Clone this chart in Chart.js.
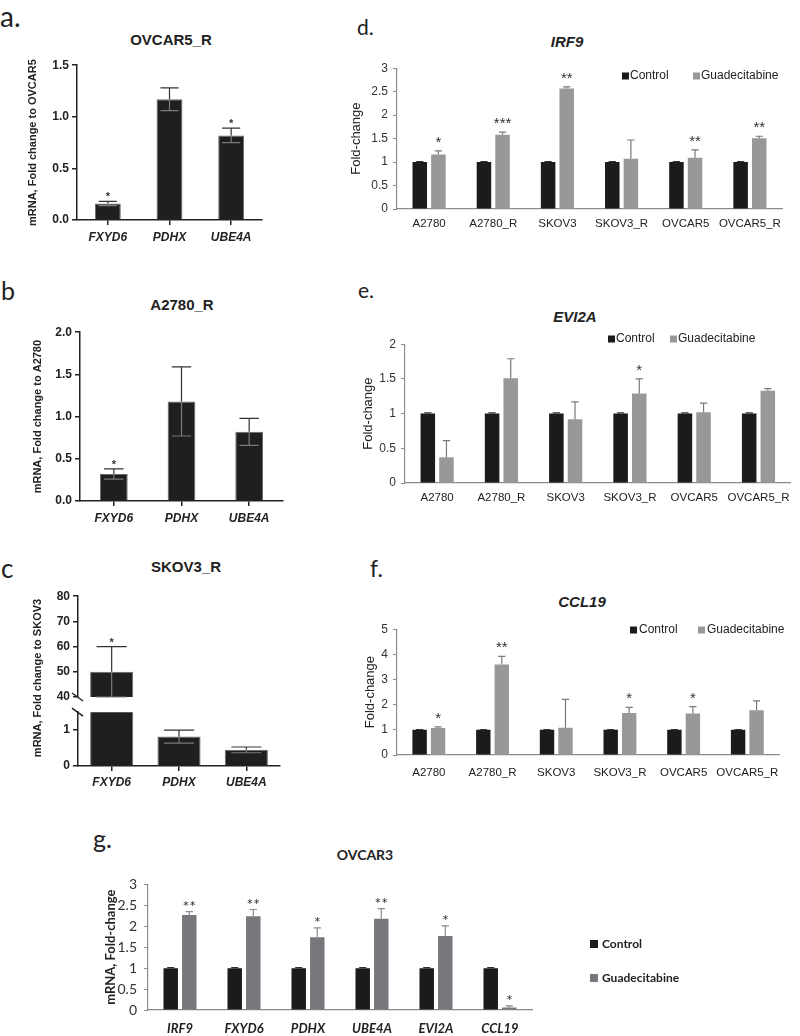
<!DOCTYPE html>
<html lang="en">
<head>
<meta charset="UTF-8">
<title>Gene expression after guadecitabine</title>
<script src="https://cdn.jsdelivr.net/npm/chart.js"></script>
<style>
  body { margin: 0; background: #fff; }
  #page { position: relative; width: 800px; height: 1036px; overflow: hidden; }
  #page canvas { position: absolute; }
  .txt { position: absolute; white-space: nowrap; line-height: 1; color: #222; }
  .letter { font-family: Lato, sans-serif; }
  .gp { font-family: "Liberation Sans", Arial, sans-serif; font-weight: bold; font-size: 15px; transform: translateX(-50%); }
  .gi { font-family: "Liberation Sans", Arial, sans-serif; font-weight: bold; font-style: italic; font-size: 15px; transform: translateX(-50%); }
</style>
</head>
<body>
<div id="page">
  <!-- panel letters -->
  <div class="txt letter" style="left:0;top:2px;font-size:28px">a.</div>
  <div class="txt letter" style="left:1px;top:278px;font-size:25px">b</div>
  <div class="txt letter" style="left:1px;top:555px;font-size:26px">c</div>
  <div class="txt letter" style="left:357px;top:16px;font-size:21px">d.</div>
  <div class="txt letter" style="left:358px;top:279px;font-size:21px">e.</div>
  <div class="txt letter" style="left:370px;top:557px;font-size:23px">f.</div>
  <div class="txt letter" style="left:93px;top:826px;font-size:25px">g.</div>

  <!-- chart titles -->
  <div class="txt gp" style="left:171px;top:32px">OVCAR5_R</div>
  <div class="txt gp" style="left:182px;top:297px">A2780_R</div>
  <div class="txt gp" style="left:186px;top:559px">SKOV3_R</div>
  <div class="txt gi" style="left:567px;top:34px">IRF9</div>
  <div class="txt gi" style="left:575px;top:309px">EVI2A</div>
  <div class="txt gi" style="left:582px;top:594px">CCL19</div>
  <div class="txt" style="left:365px;top:846px;transform:translateX(-50%);font:bold 14px Lato, sans-serif">OVCAR3</div>
</div>

<script>
// ---- panels a-c (resistant vs parental) ----
const genes = ['FXYD6', 'PDHX', 'UBE4A'];

const ovcar5R = [0.16, 1.17, 0.82];
const ovcar5RErr = [0.02, 0.11, 0.07];
const ovcar5RSig = ['*', '', '*'];

const a2780R = [0.32, 1.18, 0.82];
const a2780RErr = [0.06, 0.41, 0.16];
const a2780RSig = ['*', '', ''];

const skov3R = [50, 0.82, 0.45];
const skov3RErr = [10, 0.18, 0.08];
const skov3RSig = ['*', '', ''];
const skov3Upper = [40, 80];
const skov3Lower = [0, 1.5];
const skov3LowerTicks = [0, 1];

// ---- panels d-f (control vs guadecitabine per cell line) ----
const cellLines = ['A2780', 'A2780_R', 'SKOV3', 'SKOV3_R', 'OVCAR5', 'OVCAR5_R'];
const control = [1, 1, 1, 1, 1, 1];
const controlErr = [0.01, 0.01, 0.01, 0.01, 0.01, 0.01];

const irf9 = [1.16, 1.58, 2.57, 1.07, 1.09, 1.51];
const irf9Err = [0.08, 0.06, 0.03, 0.40, 0.17, 0.04];
const irf9Sig = ['*', '***', '**', '', '**', '**'];

const evi2a = [0.37, 1.51, 0.92, 1.29, 1.02, 1.33];
const evi2aErr = [0.24, 0.28, 0.25, 0.21, 0.13, 0.03];
const evi2aSig = ['', '', '', '*', '', ''];

const ccl19 = [1.07, 3.60, 1.08, 1.67, 1.65, 1.78];
const ccl19Err = [0.05, 0.32, 1.13, 0.22, 0.27, 0.37];
const ccl19Sig = ['*', '**', '', '*', '*', ''];

// ---- panel g (OVCAR3) ----
const ovcar3Genes = ['IRF9', 'FXYD6', 'PDHX', 'UBE4A', 'EVI2A', 'CCL19'];
const ovcar3Ctrl = [1, 1, 1, 1, 1, 1];
const ovcar3CtrlErr = [0.01, 0.01, 0.01, 0.01, 0.01, 0.01];
const ovcar3Guad = [2.27, 2.24, 1.74, 2.18, 1.77, 0.06];
const ovcar3GuadErr = [0.08, 0.16, 0.22, 0.24, 0.24, 0.04];
const ovcar3Sig = ['**', '**', '*', '**', '*', '*'];

const LIB = '"Liberation Sans", Arial, sans-serif';

// error bars + significance stars
const errBars = {
  id: 'errBars',
  afterDatasetsDraw(chart, args, o) {
    const ctx = chart.ctx, ys = chart.scales.y;
    chart.data.datasets.forEach((ds, i) => {
      if (!ds.err) return;
      chart.getDatasetMeta(i).data.forEach((bar, j) => {
        const v = ds.data[j];
        if (v < ys.min || v > ys.max) return;
        const e = ds.err[j];
        const yv = ys.getPixelForValue(v);
        const yt = ys.getPixelForValue(v + e);
        const cap = bar.width * (o.cap || 0.5) / 2;
        ctx.save();
        ctx.lineWidth = o.lineWidth || 1;
        ctx.strokeStyle = ds.errColor || '#333';
        ctx.beginPath();
        ctx.moveTo(bar.x, yv); ctx.lineTo(bar.x, yt);
        ctx.moveTo(bar.x - cap, yt); ctx.lineTo(bar.x + cap, yt);
        ctx.stroke();
        if (o.lower) {
          const yb = ys.getPixelForValue(Math.max(v - e, ys.min));
          ctx.strokeStyle = o.lowerColor;
          ctx.beginPath();
          ctx.moveTo(bar.x, yv); ctx.lineTo(bar.x, yb);
          ctx.moveTo(bar.x - cap, yb); ctx.lineTo(bar.x + cap, yb);
          ctx.stroke();
        }
        if (ds.sig && ds.sig[j]) {
          ctx.fillStyle = o.starColor || '#333';
          ctx.font = o.starFont;
          ctx.textAlign = 'center';
          ctx.textBaseline = 'alphabetic';
          ctx.fillText(ds.sig[j], bar.x, yt - (o.starGap || 0));
        }
        ctx.restore();
      });
    });
  }
};

// small square legend placed inside the plot
const key = {
  id: 'key',
  afterDraw(chart, args, o) {
    if (!o.xs) return;
    const ctx = chart.ctx;
    ctx.save();
    ctx.font = o.font;
    ctx.textBaseline = 'middle';
    ctx.textAlign = 'left';
    chart.data.datasets.forEach((ds, k) => {
      ctx.fillStyle = ds.backgroundColor;
      ctx.fillRect(o.xs[k], o.ys[k] - o.box / 2, o.box, o.box);
      ctx.fillStyle = o.color;
      ctx.fillText(ds.label, o.xs[k] + o.box + o.gap, o.ys[k]);
    });
    ctx.restore();
  }
};

// diagonal mark where the y axis of panel c is broken,
// plus the shared axis title of both halves
const axisBreak = {
  id: 'axisBreak',
  afterDraw(chart, args, o) {
    if (!o.at) return;
    const ctx = chart.ctx, a = chart.chartArea;
    const y = o.at === 'top' ? a.top : a.bottom;
    ctx.save();
    ctx.strokeStyle = '#222';
    ctx.lineWidth = 1.5;
    ctx.beginPath();
    ctx.moveTo(a.left - 6, y - 4);
    ctx.lineTo(a.left + 5, y + 4);
    ctx.stroke();
    if (o.title) {
      ctx.translate(o.titleX, o.titleY);
      ctx.rotate(-Math.PI / 2);
      ctx.fillStyle = '#222';
      ctx.font = 'bold 11px ' + LIB;
      ctx.textAlign = 'center';
      ctx.textBaseline = 'middle';
      ctx.fillText(o.title, 0, 0);
    }
    ctx.restore();
  }
};

Chart.register(errBars, key, axisBreak);
Chart.defaults.font.family = LIB;
Chart.defaults.color = '#222';

function addCanvas(x, y, w, h) {
  const c = document.createElement('canvas');
  c.width = w; c.height = h;
  c.style.left = x + 'px';
  c.style.top = y + 'px';
  document.getElementById('page').appendChild(c);
  return c;
}

// ---- GraphPad-like panels ----
function gpY(min, max, step, title, titlePad, width, fmt) {
  return {
    min: min, max: max,
    ticks: { stepSize: step, padding: 3, color: '#222', font: { weight: 'bold', size: 12 }, callback: fmt },
    grid: { drawOnChartArea: false, tickLength: 5, color: '#222', lineWidth: 1.5 },
    border: { color: '#222', width: 1.5 },
    title: { display: !!title, text: title, color: '#222', font: { weight: 'bold', size: 11 }, padding: { top: titlePad, bottom: 0 } },
    afterFit: s => { s.width = width; }
  };
}
function gpX(pad, height, show) {
  return {
    display: show !== false,
    ticks: { padding: pad, color: '#222', font: { weight: 'bold', style: 'italic', size: 12 } },
    grid: { offset: false, drawOnChartArea: false, tickLength: 5, color: '#222', lineWidth: 1.5 },
    border: { color: '#222', width: 1.5 },
    afterFit: s => { s.height = height; }
  };
}
function gpSet(values, errs, sig, barPct) {
  return { data: values, err: errs, sig: sig, backgroundColor: '#201e1f', borderColor: '#6a6a6a',
           borderWidth: 1, barPercentage: barPct, categoryPercentage: 1, errColor: '#333', clip: 0 };
}
const gpPlugins = {
  legend: { display: false }, tooltip: { enabled: false },
  errBars: { cap: 0.7, lower: true, lowerColor: '#7a7a7a', lineWidth: 1.2, starFont: 'bold 11px ' + LIB, starGap: 1, starColor: '#333' }
};
const oneDec = v => v.toFixed(1);
const plain = v => String(v);

// a. OVCAR5_R
new Chart(addCanvas(0, 55, 275, 200), {
  type: 'bar',
  data: { labels: genes, datasets: [gpSet(ovcar5R, ovcar5RErr, ovcar5RSig, 0.42)] },
  options: {
    responsive: false, animation: false,
    layout: { padding: { top: 10, right: 13, left: 0, bottom: 0 } },
    plugins: gpPlugins,
    scales: { x: gpX(5, 35), y: gpY(0, 1.5, 0.5, 'mRNA, Fold change to OVCAR5', 26, 77, oneDec) }
  }
});

// b. A2780_R
new Chart(addCanvas(0, 322, 290, 205), {
  type: 'bar',
  data: { labels: genes, datasets: [gpSet(a2780R, a2780RErr, a2780RSig, 0.41)] },
  options: {
    responsive: false, animation: false,
    layout: { padding: { top: 10, right: 7, left: 0, bottom: 0 } },
    plugins: gpPlugins,
    scales: { x: gpX(5, 26), y: gpY(0, 2, 0.5, 'mRNA, Fold change to A2780', 31, 80, oneDec) }
  }
});

// c. SKOV3_R, upper segment of the broken axis (canvas reaches down to hold the axis title)
new Chart(addCanvas(0, 586, 290, 190), {
  type: 'bar',
  data: { labels: genes, datasets: [gpSet(skov3R, skov3RErr, skov3RSig, 0.64)] },
  options: {
    responsive: false, animation: false,
    layout: { padding: { top: 10, right: 10, left: 0, bottom: 79 } },
    plugins: Object.assign({}, gpPlugins, {
      axisBreak: { at: 'bottom', title: 'mRNA, Fold change to SKOV3', titleX: 38, titleY: 92 }
    }),
    scales: { x: gpX(5, 0, false), y: gpY(skov3Upper[0], skov3Upper[1], 10, '', 0, 78, plain) }
  }
});

// c. lower segment
const lowerY = gpY(skov3Lower[0], skov3Lower[1], 1, '', 0, 78, plain);
lowerY.afterBuildTicks = s => { s.ticks = skov3LowerTicks.map(v => ({ value: v })); };
new Chart(addCanvas(0, 702, 290, 98), {
  type: 'bar',
  data: { labels: genes, datasets: [gpSet(skov3R, skov3RErr, skov3RSig, 0.64)] },
  options: {
    responsive: false, animation: false,
    layout: { padding: { top: 10, right: 10, left: 0, bottom: 0 } },
    plugins: Object.assign({}, gpPlugins, { axisBreak: { at: 'top' } }),
    scales: { x: gpX(4, 34), y: lowerY }
  }
});

// ---- grouped Excel-like panels ----
function groupedPanel(box, o) {
  const axisGrey = o.axisColor;
  return new Chart(addCanvas(box[0], box[1], box[2], box[3]), {
    type: 'bar',
    data: {
      labels: o.labels,
      datasets: [
        { label: 'Control', data: o.ctrl, err: o.ctrlErr, backgroundColor: '#1b1b1b', errColor: '#333' },
        { label: 'Guadecitabine', data: o.guad, err: o.err, sig: o.sig, backgroundColor: o.guadColor, errColor: o.errColor }
      ]
    },
    options: {
      responsive: false, animation: false,
      datasets: { bar: { categoryPercentage: 0.58, barPercentage: 0.78 } },
      layout: { padding: o.pad },
      plugins: {
        legend: { display: false }, tooltip: { enabled: false },
        errBars: { cap: 0.5, lineWidth: 1.2, starFont: o.starFont, starGap: o.starGap, starColor: '#333' },
        key: o.key
      },
      scales: {
        x: {
          ticks: { padding: o.xPad, color: '#222', font: o.xFont, maxRotation: 0, minRotation: 0, autoSkip: false },
          grid: { display: false, drawTicks: false },
          border: { color: axisGrey, width: 1.2 },
          afterFit: s => { s.height = o.xHeight; }
        },
        y: {
          min: 0, max: o.yMax,
          ticks: { stepSize: o.yStep, padding: o.yPad, color: '#333', font: o.yFont, callback: plain },
          grid: { drawOnChartArea: false, tickLength: 4, color: axisGrey },
          border: { color: axisGrey, width: 1.2 },
          title: { display: true, text: o.yTitle, color: '#222', font: o.titleFont, padding: { top: o.titlePad, bottom: 0 } },
          afterFit: s => { s.width = o.yWidth; }
        }
      }
    }
  });
}

const excel = {
  labels: cellLines, ctrl: control, ctrlErr: controlErr,
  guadColor: '#989898', errColor: '#7a7a7a', axisColor: '#8c8c8c',
  starFont: '15px ' + LIB, starGap: 4,
  xFont: { size: 11.5 }, yFont: { size: 12 }, titleFont: { size: 13 },
  yTitle: 'Fold-change', yPad: 5
};

// d. IRF9
groupedPanel([340, 56, 450, 175], Object.assign({}, excel, {
  guad: irf9, err: irf9Err, sig: irf9Sig, yMax: 3, yStep: 0.5,
  pad: { top: 10, right: 8, left: 0, bottom: 0 }, yWidth: 57, xHeight: 22, xPad: 8, titlePad: 9,
  key: { xs: [282, 353], ys: [20, 20], box: 7, gap: 1, font: '12px ' + LIB, color: '#222' }
}));

// e. EVI2A
groupedPanel([340, 332, 458, 175], Object.assign({}, excel, {
  guad: evi2a, err: evi2aErr, sig: evi2aSig, yMax: 2, yStep: 0.5,
  pad: { top: 10, right: 6, left: 0, bottom: 0 }, yWidth: 65, xHeight: 24, xPad: 8, titlePad: 21,
  key: { xs: [268, 330], ys: [7, 7], box: 7, gap: 1, font: '12px ' + LIB, color: '#222' }
}));

// f. CCL19
groupedPanel([340, 617, 450, 170], Object.assign({}, excel, {
  guad: ccl19, err: ccl19Err, sig: ccl19Sig, yMax: 5, yStep: 1,
  pad: { top: 10, right: 8, left: 0, bottom: 0 }, yWidth: 57, xHeight: 32, xPad: 11, titlePad: 23,
  key: { xs: [290, 358], ys: [13, 13], box: 7, gap: 2, font: '12px ' + LIB, color: '#222' }
}));

// g. OVCAR3
groupedPanel([90, 869, 700, 167], {
  labels: ovcar3Genes, ctrl: ovcar3Ctrl, ctrlErr: ovcar3CtrlErr,
  guad: ovcar3Guad, err: ovcar3GuadErr, sig: ovcar3Sig,
  guadColor: '#77787b', errColor: '#8c8c8c', axisColor: '#8c8c8c',
  starFont: '16px Lato, sans-serif', starGap: 0,
  xFont: { family: 'Lato, sans-serif', weight: 'bold', style: 'italic', size: 13 },
  yFont: { family: 'Lato, sans-serif', size: 14 },
  titleFont: { family: 'Lato, sans-serif', weight: 'bold', size: 13 },
  yTitle: 'mRNA, Fold-change', yPad: 7,
  yMax: 3, yStep: 0.5,
  pad: { top: 10, right: 258, left: 0, bottom: 0 }, yWidth: 58, xHeight: 26, xPad: 11, titlePad: 13,
  key: { xs: [500, 500], ys: [75, 109], box: 8, gap: 4, font: 'bold 12px Lato, sans-serif', color: '#222' }
});
</script>
</body>
</html>
